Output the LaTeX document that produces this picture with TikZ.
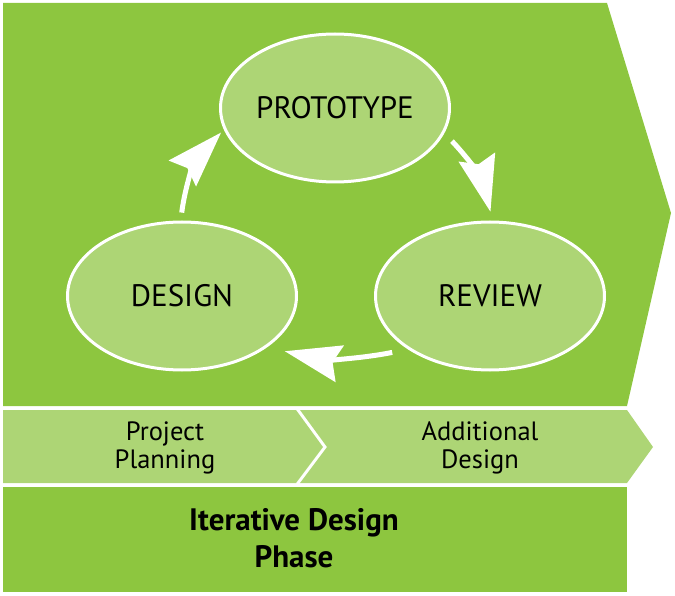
\documentclass[tikz,border=0pt]{standalone}
\usepackage{fontspec}
\setmainfont{PT Sans}
\usetikzlibrary{shapes.geometric,arrows.meta}
\definecolor{darkgrn}{RGB}{141,198,63}
\definecolor{lightgrn}{RGB}{173,213,117}

\begin{document}
\begin{tikzpicture}[x=1pt, y=-1pt]
\tikzset{phase/.style = {shape=ellipse, draw=white, line width=3pt, fill=lightgrn, minimum width=229pt, minimum height=148pt, inner sep=0pt, font=\fontsize{31}{34}\selectfont}}
\tikzset{cyc/.style = {draw=white, line width=5pt, -{Stealth[length=56pt, width=37pt, inset=7pt]}}}
\tikzset{label/.style = {align=center, font=\fontsize{26.5}{28}\selectfont}}

\useasboundingbox (0,0) rectangle (675,596);

% backgrounds
\fill[darkgrn] (3,3) -- (607,3) -- (671,213) -- (627,406) -- (3,406) -- cycle;
\fill[lightgrn] (3,410) -- (296,410) -- (323,447) -- (296,483) -- (3,483) -- cycle;
\fill[lightgrn] (300,410) -- (627,410) -- (653,447) -- (627,483) -- (300,483) -- (327,447) -- cycle;
\fill[darkgrn] (3,487) rectangle (627,592);

\node[phase] (P) at (335,108) {PROTOTYPE};
\node[phase] (D) at (182,296) {DESIGN};
\node[phase] (R) at (490,296) {REVIEW};

\node[label] (plan) at (165,448) {Project\\Planning};
\node[label] (add) at (480,448) {Additional\\Design};
\node[label, font=\fontsize{31}{37}\selectfont\bfseries] (iter) at (294,538) {Iterative Design\\Phase};

%edges
\draw[cyc, shorten <=8pt, shorten >=4pt] (D.91) to[bend left=18] (P.191);
\draw[cyc, shorten <=11pt, shorten >=9pt] (P.-13) to[bend left=15] (R.88);
\draw[cyc, shorten <=16pt, shorten >=18pt] (R.213) to[bend left=12] (D.-31);

\end{tikzpicture}
\end{document}
